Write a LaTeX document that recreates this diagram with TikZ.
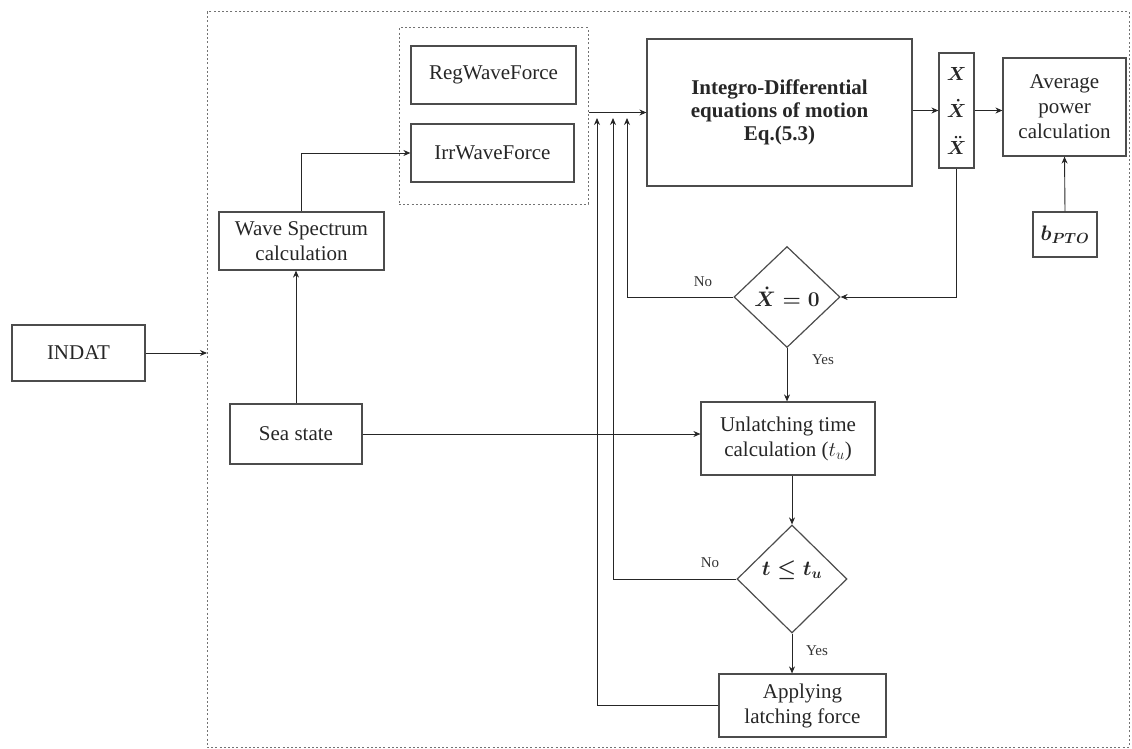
\documentclass[tikz,border=0pt]{standalone}
\usepackage{fix-cm}
\usepackage{amsmath}
\usepackage{fontspec}
\setmainfont{Liberation Serif}
\usetikzlibrary{arrows.meta, shapes.geometric}

\tikzset{
  blk/.style={draw=black!70, line width=1.2pt, text=black!85, align=center,
    inner sep=2pt, font=\fontsize{21}{25}\selectfont},
  decision/.style={diamond, draw=black!70, line width=1.2pt, inner sep=0pt,
    text=black!85, font=\fontsize{21}{25}\selectfont\boldmath},
  conn/.style={draw=black!85, line width=0.9pt, -{Stealth[length=7pt,width=6pt]}},
  dotbox/.style={draw=black!55, line width=1pt, dash pattern=on 2pt off 2.2pt},
  lbl/.style={text=black!80, font=\fontsize{15}{18}\selectfont},
}

\begin{document}
\begin{tikzpicture}[x=1pt, y=-1pt]
  \useasboundingbox (0,0) rectangle (1132,749);
  % Outer frame of the model
  \draw[dotbox] (207,12) rectangle (1129,747);
  \coordinate (sysin) at (207,353);
  % Input blocks
  \node[blk, minimum width=133pt, minimum height=56pt] (indat) at (78.5,353) {INDAT};
  \node[blk, minimum width=132pt, minimum height=60pt] (sea) at (296,434) {Sea state};
  \node[blk, minimum width=165pt, minimum height=58pt] (wavespec) at (301.5,241) {Wave Spectrum\\calculation};
  % Wave force group
  \node[dotbox, minimum width=189pt, minimum height=176pt] (forces) at (493.5,116) {};
  \node[blk, minimum width=165pt, minimum height=58pt] (reg) at (493.5,75) {RegWaveForce};
  \node[blk, minimum width=163pt, minimum height=58pt] (irr) at (492.5,153) {IrrWaveForce};
  % Equations of motion and outputs
  \node[blk, minimum width=265pt, minimum height=147pt, font=\fontsize{21}{23}\selectfont\bfseries] (eqm) at (779.5,112.5)
    {Integro-Differential\\equations of motion\\Eq.(5.3)};
  \node[blk, minimum width=35pt, minimum height=115pt, inner sep=0pt, font=\fontsize{19}{37}\selectfont\boldmath] (xcol) at (956.5,110.5)
    {$X$\\$\dot X$\\$\ddot X$};
  \node[blk, minimum width=123pt, minimum height=98pt] (avg) at (1064.5,107) {Average\\power\\calculation};
  \node[blk, minimum width=64pt, minimum height=45pt, font=\fontsize{21}{25}\selectfont\boldmath] (bpto) at (1065,234.5) {$b_{PTO}$};
  % Latching logic
  \node[decision, minimum width=106pt, minimum height=101pt] (dia1) at (787,297) {$\dot X = 0$};
  \node[blk, minimum width=174pt, minimum height=73pt] (unlatch) at (788,438.5) {Unlatching time\\calculation ($t_u$)};
  \node[decision, minimum width=110pt, minimum height=108pt] (dia2) at (792,579) {};
  \node[text=black!85, font=\fontsize{21}{25}\selectfont\boldmath] (dia2txt) at (792,570) {$t \le t_u$};
  \node[blk, minimum width=167pt, minimum height=63pt] (apply) at (802.5,705.5) {Applying\\latching force};
  % Feedback inlets
  \coordinate (fbA) at (597,118);
  \coordinate (fbB) at (613,118);
  \coordinate (fbC) at (627,118);
  % Connectors
  \draw[conn] (indat.east |- sysin) -- (sysin);
  \draw[conn] (sea.north) -- (sea.north |- wavespec.south);
  \draw[conn] (wavespec.north) |- (irr.west);
  \draw[conn] (forces.east |- eqm.west) -- (eqm.west);
  \draw[conn] (xcol.west -| eqm.east) -- (xcol.west);
  \draw[conn] (xcol.east) -- (xcol.east -| avg.west);
  \draw[conn] (bpto.north) -- (avg.south);
  \draw[conn] (xcol.south) |- (dia1.east);
  \draw[conn] (dia1.west) -| (fbC);
  \draw[conn] (dia1.south) -- (dia1.south |- unlatch.north);
  \draw[conn] (sea.east) -- (sea.east -| unlatch.west);
  \draw[conn] (unlatch.south -| dia2.north) -- (dia2.north);
  \draw[conn] (dia2.west) -| (fbB);
  \draw[conn] (dia2.south) -- (dia2.south |- apply.north);
  \draw[conn] (apply.west) -| (fbA);
  % Branch labels
  \node[lbl] (no1) at (703,282) {No};
  \node[lbl] (yes1) at (823,360) {Yes};
  \node[lbl] (no2) at (710,563) {No};
  \node[lbl] (yes2) at (817,651) {Yes};
\end{tikzpicture}
\end{document}
